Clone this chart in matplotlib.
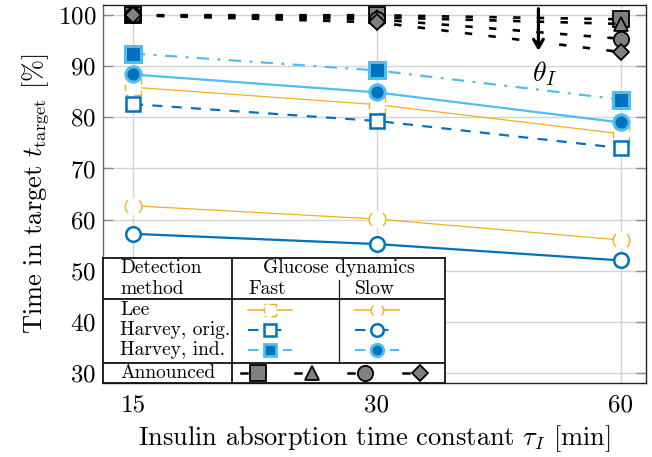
import numpy as np
import matplotlib
matplotlib.use("Agg")
import matplotlib.pyplot as plt
from matplotlib.path import Path
from matplotlib.ticker import NullLocator, FixedLocator, FixedFormatter

plt.rcParams['font.family'] = 'serif'
plt.rcParams['font.serif'] = ['cmr10']
plt.rcParams['mathtext.fontset'] = 'cm'
plt.rcParams['axes.formatter.use_mathtext'] = True

# data
tau = [15, 30, 60]
tick_labels = ['15', '30', '60']
lee_fast = [85.9, 82.5, 76.8]
lee_slow = [62.7, 60.1, 56.0]
orig_fast = [82.6, 79.3, 74.0]
orig_slow = [57.2, 55.2, 52.0]
ind_fast = [92.5, 89.2, 83.5]
ind_slow = [88.4, 84.9, 79.0]
ann_square = [100.0, 100.0, 99.2]
ann_triangle = [100.0, 99.6, 98.3]
ann_circle = [100.0, 99.2, 95.4]
ann_diamond = [100.0, 98.6, 92.8]

dark_blue = '#0072BD'
light_blue = '#4DBEEE'
orange = '#EDB120'
gray = '#808080'


def seg_path(segments):
    verts, codes = [], []
    for seg in segments:
        for i, p in enumerate(seg):
            verts.append(p)
            codes.append(Path.MOVETO if i == 0 else Path.LINETO)
    return Path(verts, codes)


# dashed outlines for the Lee markers
sq_dashed = seg_path([
    [(-1, -0.5), (-1, 0.45)],
    [(-0.1, 1), (1, 1), (1, 0.45)],
    [(1, -0.45), (1, -1), (0.1, -1)],
    [(-1, 1), (-0.6, 1)],
    [(-1, -1), (-0.6, -1)],
])
ang1 = np.radians(np.linspace(130, 230, 20))
ang2 = np.radians(np.linspace(-50, 50, 20))
circ_dashed = seg_path([
    list(zip(np.cos(ang1), np.sin(ang1))),
    list(zip(np.cos(ang2), np.sin(ang2))),
])

fig = plt.figure(figsize=(6.52, 4.57), dpi=100)
ax = fig.add_axes([103 / 652, 74 / 457, 543 / 652, 378 / 457])

ax.set_xscale('log')
ax.set_xlim(13.77, 64.5)
ax.set_ylim(28.0, 102.0)
ax.xaxis.set_major_locator(FixedLocator(tau))
ax.xaxis.set_major_formatter(FixedFormatter(tick_labels))
ax.xaxis.set_minor_locator(NullLocator())
ax.set_yticks([30, 40, 50, 60, 70, 80, 90, 100])
ax.grid(True, color='#d4d4d4', lw=1.0, zorder=0)
ax.set_axisbelow(True)
ax.tick_params(axis='y', direction='in', left=True, right=True, length=7,
               color='#8c8c8c', width=1.0, labelsize=18, pad=5)
ax.tick_params(axis='x', length=0, labelsize=18, pad=8)
for s in ax.spines.values():
    s.set_color('#222222')
    s.set_linewidth(1.0)
ax.spines['left'].set_color('#666666')

# Lee (thin orange, dashed-outline markers)
ax.plot(tau, lee_fast, color=orange, lw=0.9, marker='s', ms=11, mfc='white', mec='none', zorder=3)
ax.plot(tau, lee_fast, ls='none', marker=sq_dashed, ms=11, mfc='none', mec=orange, mew=1.0, zorder=3)
ax.plot(tau, lee_slow, color=orange, lw=0.9, marker='o', ms=12, mfc='white', mec='none', zorder=3)
ax.plot(tau, lee_slow, ls='none', marker=circ_dashed, ms=12, mfc='none', mec=orange, mew=1.0, zorder=3)

# Harvey, original
ax.plot(tau, orig_fast, color=dark_blue, lw=1.6, ls=(0, (4.5, 4.2)), marker='s', ms=10,
        mfc='white', mec=dark_blue, mew=1.8, zorder=4)
ax.plot(tau, orig_slow, color=dark_blue, lw=1.6, marker='o', ms=10.5,
        mfc='white', mec=dark_blue, mew=1.8, zorder=4)

# Harvey, individualised
ax.plot(tau, ind_fast, color=light_blue, lw=1.6, ls=(0, (5.5, 3.8, 1.3, 3.8)), marker='s', ms=11,
        mfc=dark_blue, mec=light_blue, mew=2.2, zorder=4)
ax.plot(tau, ind_slow, color=light_blue, lw=1.6, marker='o', ms=11,
        mfc=dark_blue, mec=light_blue, mew=2.2, zorder=4)

# Announced
ann_style = dict(color='black', lw=1.9, ls=(0, (2.8, 6.2)), mfc=gray, mec='black', mew=1.3, zorder=5)
ax.plot(tau, ann_square, marker='s', ms=11, **ann_style)
ax.plot(tau, ann_triangle, marker='^', ms=10, **ann_style)
ax.plot(tau, ann_circle, marker='o', ms=11, **ann_style)
ax.plot(tau, ann_diamond, marker='D', ms=8, **ann_style)

ax.annotate('', xy=(47.5, 92.5), xytext=(47.5, 101.8),
            arrowprops=dict(arrowstyle='->,head_length=0.6,head_width=0.35', lw=2.3, color='black'),
            zorder=6)
ax.text(48.3, 88.6, r'$\theta_I$', fontsize=20, ha='center', va='center', zorder=6)

ax.set_xlabel(r'Insulin absorption time constant $\tau_I$ [min]', fontsize=19, labelpad=5)
ax.set_ylabel(r'Time in target $t_\mathrm{target}$ [%]', fontsize=19, labelpad=5)

# legend table
leg = fig.add_axes([103 / 652, 74 / 457, 342 / 652, 125 / 457])
leg.set_xlim(0, 342)
leg.set_ylim(125, 0)
leg.set_xticks([])
leg.set_yticks([])
leg.set_facecolor('white')
for s in leg.spines.values():
    s.set_color('#111111')
    s.set_linewidth(1.3)

lc = '#111111'
leg.plot([129, 129], [0, 125], color=lc, lw=1.3)
leg.plot([0, 342], [41, 41], color=lc, lw=1.3)
leg.plot([0, 342], [105, 105], color=lc, lw=1.3)
leg.plot([236, 236], [22, 105], color=lc, lw=0.9)

fs = 14
leg.text(17, 10, 'Detection', fontsize=fs, va='center')
leg.text(17, 31, 'method', fontsize=fs, va='center')
leg.text(236, 10, 'Glucose dynamics', fontsize=fs, va='center', ha='center')
leg.text(145, 31, 'Fast', fontsize=fs, va='center')
leg.text(252, 31, 'Slow', fontsize=fs, va='center')
leg.text(17, 52, 'Lee', fontsize=fs, va='center')
leg.text(17, 72, 'Harvey, orig.', fontsize=fs, va='center')
leg.text(17, 92, 'Harvey, ind.', fontsize=fs, va='center')
leg.text(17, 115, 'Announced', fontsize=fs, va='center')


def sample(x0, y, **kw):
    leg.plot([x0, x0 + 22, x0 + 44], [y, y, y], markevery=[1], **kw)


for x0, fast in [(145, True), (252, False)]:
    mk = 's' if fast else 'o'
    sample(x0, 52, color=orange, lw=1.1, marker=mk, ms=9, mfc='white', mec='none')
    leg.plot([x0 + 22], [52], ls='none', marker=sq_dashed if fast else circ_dashed, ms=9,
             mfc='none', mec=orange, mew=1.0)
    sample(x0, 72, color=dark_blue, lw=1.5, ls=(0, (5, 6)), marker=mk, ms=9,
           mfc='white', mec=dark_blue, mew=1.8)
    sample(x0, 92, color=light_blue, lw=1.5, ls=(0, (5, 6, 0.8, 5)), marker=mk, ms=9,
           mfc=dark_blue, mec=light_blue, mew=2.0)

for xm, mk, ms in [(155, 's', 11), (209, '^', 10), (262, 'o', 11), (317, 'D', 8)]:
    leg.plot([xm - 17, xm - 11], [115, 115], color='black', lw=1.8)
    leg.plot([xm], [115], marker=mk, ms=ms, mfc=gray, mec='black', mew=1.3)

fig.savefig('out.png', dpi=100)
